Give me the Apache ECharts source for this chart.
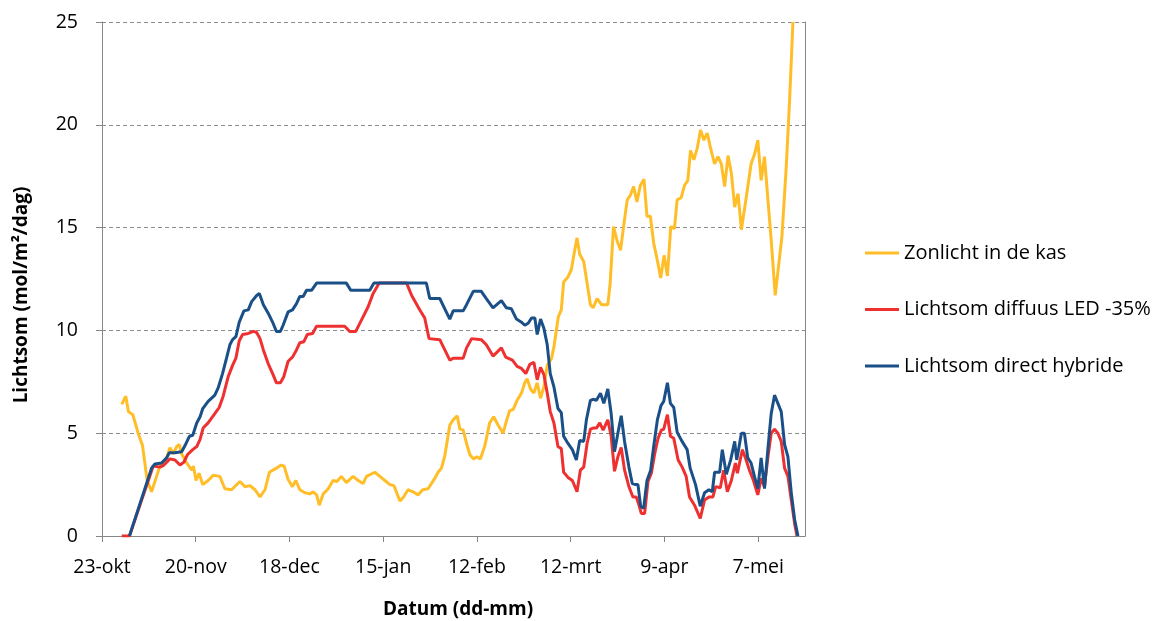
<!DOCTYPE html>
<html>
<head>
<meta charset="utf-8">
<script src="https://cdn.jsdelivr.net/npm/echarts@6/dist/echarts.min.js"></script>
<style>
html,body{margin:0;padding:0;background:#fff;}
#chart{width:1154px;height:621px;}
</style>
</head>
<body>
<div id="chart"></div>
<script>
// x = days after 23-okt
var tickLabels = ['23-okt','20-nov','18-dec','15-jan','12-feb','12-mrt','9-apr','7-mei'];
var seriesNames = ['Zonlicht in de kas','Lichtsom diffuus LED -35%','Lichtsom direct hybride'];

var zonlicht = [[5.9,6.4],[7.1,6.8],[7.9,6.05],[9.2,5.9],[10.8,5.0],[12.1,4.4],[13.5,2.7],[14.8,2.15],[16.3,2.9],[17.3,3.4],[18.8,3.55],[20.3,4.3],[21.3,4.0],[22.3,4.35],[23.1,4.45],[23.8,4.0],[25.3,3.55],[26.8,3.2],[27.3,3.4],[28.1,2.7],[29.0,3.05],[30.1,2.5],[31.7,2.7],[33.2,2.95],[35.2,2.9],[36.7,2.3],[38.7,2.25],[41.2,2.65],[42.7,2.4],[44.2,2.45],[45.7,2.25],[47.2,1.9],[48.7,2.25],[50.0,3.1],[52.1,3.3],[53.6,3.45],[54.4,3.4],[55.6,2.75],[56.9,2.4],[57.9,2.7],[59.1,2.25],[60.6,2.1],[62.1,2.05],[63.1,2.15],[64.1,2.0],[64.9,1.5],[66.1,2.05],[67.6,2.3],[69.0,2.7],[70.2,2.65],[71.5,2.9],[73.0,2.6],[75.0,2.9],[76.5,2.7],[78.0,2.55],[79.0,2.9],[81.5,3.1],[83.0,2.9],[84.5,2.7],[86.0,2.5],[87.2,2.45],[89.0,1.7],[90.1,1.9],[91.4,2.25],[92.9,2.15],[94.4,2.0],[95.8,2.25],[97.4,2.3],[99.4,2.8],[100.4,3.1],[101.4,3.3],[102.4,3.9],[103.9,5.4],[104.9,5.65],[106.1,5.85],[106.9,5.2],[107.9,5.15],[108.9,4.5],[109.9,3.95],[111.0,3.75],[112.0,3.85],[113.0,3.75],[114.3,4.35],[115.8,5.5],[117.0,5.8],[118.3,5.4],[119.8,5.0],[121.0,5.7],[121.8,6.1],[122.8,6.15],[124.0,6.6],[125.3,6.95],[126.3,7.45],[127.0,7.65],[128.0,7.15],[129.0,6.95],[130.0,7.45],[131.0,6.7],[132.0,7.25],[133.0,8.3],[134.3,8.65],[135.0,9.2],[136.3,10.65],[137.2,11.0],[137.9,12.35],[139.2,12.6],[140.2,12.95],[141.2,13.9],[141.9,14.5],[142.7,13.7],[143.9,13.35],[144.9,12.3],[145.9,11.25],[146.7,11.1],[147.9,11.55],[149.2,11.25],[151.1,11.25],[151.8,12.3],[152.8,15.05],[153.8,14.4],[154.9,13.9],[155.8,15.05],[156.9,16.35],[157.9,16.6],[158.8,17.0],[159.8,16.25],[160.8,17.05],[161.9,17.35],[162.8,15.55],[163.8,15.55],[164.8,14.25],[165.9,13.4],[166.9,12.55],[167.9,13.65],[168.9,12.65],[169.9,15.05],[171.0,14.95],[171.8,16.35],[173.0,16.45],[174.0,17.05],[175.0,17.3],[175.8,18.75],[176.8,18.3],[177.8,18.85],[178.8,19.75],[179.8,19.25],[180.8,19.6],[181.8,18.85],[183.0,18.1],[184.0,18.45],[185.0,18.1],[186.0,17.0],[187.0,18.5],[188.0,17.65],[189.0,16.0],[190.0,16.65],[191.0,14.9],[192.2,16.2],[193.9,18.1],[194.9,18.55],[195.9,19.25],[196.9,17.3],[197.9,18.45],[199.1,16.0],[199.9,14.4],[201.1,11.7],[203.1,14.55],[204.4,17.95],[205.4,21.2],[206.4,25.0]];

var diffuus = [[5.9,0],[8.2,0],[15.3,3.4],[17.3,3.35],[18.5,3.45],[20.3,3.75],[21.8,3.7],[23.3,3.45],[24.5,3.6],[25.5,3.95],[27.1,4.2],[28.3,4.35],[29.3,4.7],[30.2,5.25],[31.7,5.5],[33.7,5.95],[35.0,6.25],[36.2,6.8],[37.7,7.75],[39.0,8.3],[40.0,8.65],[41.0,9.5],[42.0,9.8],[43.7,9.85],[45.2,9.95],[46.2,9.9],[47.2,9.6],[48.2,9.05],[49.6,8.4],[51.1,7.85],[52.1,7.45],[53.3,7.45],[54.3,7.75],[55.6,8.5],[56.9,8.7],[58.1,9.05],[59.1,9.4],[60.3,9.45],[61.3,9.8],[62.9,9.85],[64.1,10.2],[72.5,10.2],[74.0,9.95],[75.8,9.95],[77.5,10.5],[79.5,11.15],[81.0,11.8],[82.8,12.3],[91.0,12.3],[92.5,11.7],[94.9,11.0],[96.4,10.6],[97.7,9.6],[100.9,9.55],[102.4,9.05],[103.9,8.55],[104.9,8.65],[107.9,8.65],[108.9,9.15],[110.4,9.6],[113.3,9.55],[114.8,9.3],[116.8,8.75],[119.3,9.15],[120.6,8.7],[122.6,8.55],[124.0,8.25],[125.3,8.15],[126.6,7.9],[127.8,8.35],[129.0,8.45],[130.0,7.6],[131.0,8.2],[132.0,7.85],[133.0,6.95],[133.9,6.05],[135.0,5.5],[136.2,4.35],[137.2,4.25],[137.9,3.1],[139.2,2.85],[140.5,2.7],[141.9,2.15],[142.9,3.2],[143.9,3.35],[144.9,4.5],[145.9,5.2],[146.7,5.25],[147.7,5.25],[148.7,5.5],[149.7,5.15],[151.1,5.65],[152.1,4.85],[153.1,3.15],[154.1,3.85],[155.1,4.3],[156.1,3.2],[157.4,2.4],[158.6,1.9],[159.6,1.9],[160.4,1.5],[161.1,1.1],[162.1,1.1],[163.1,2.65],[164.1,3.05],[165.1,4.0],[166.1,4.75],[167.1,5.15],[167.8,5.2],[168.9,5.9],[169.8,4.85],[170.8,4.75],[172.1,3.7],[173.3,3.35],[174.5,2.9],[175.5,1.9],[177.0,1.5],[178.7,0.85],[180.0,1.75],[181.3,1.9],[182.5,1.9],[183.3,2.4],[184.7,2.35],[185.7,3.2],[186.8,2.15],[188.0,2.7],[189.2,3.55],[189.8,3.05],[191.3,4.2],[192.2,3.8],[193.4,3.2],[194.6,2.7],[195.9,2.0],[196.9,2.8],[197.9,2.4],[198.9,3.8],[199.9,5.0],[200.9,5.2],[201.9,5.0],[202.9,4.6],[203.9,3.3],[204.9,2.9],[205.9,1.75],[206.9,0.6],[207.6,0]];

var hybride = [[8.2,0],[14.8,3.3],[15.8,3.5],[17.8,3.55],[19.3,3.8],[20.1,4.05],[21.8,4.05],[23.8,4.1],[24.8,4.4],[26.1,4.85],[27.1,4.9],[28.3,5.5],[29.3,5.8],[30.1,6.2],[31.7,6.55],[33.7,6.85],[34.7,7.2],[36.0,7.9],[37.2,8.65],[38.2,9.3],[39.0,9.55],[40.0,9.7],[41.0,10.4],[42.4,10.95],[43.7,11.0],[44.7,11.4],[46.2,11.7],[47.0,11.8],[48.2,11.25],[49.6,10.85],[51.1,10.35],[52.1,9.95],[53.3,9.95],[54.1,10.25],[55.6,10.9],[56.9,11.0],[58.1,11.3],[59.1,11.65],[60.1,11.65],[61.1,11.95],[62.6,11.95],[64.1,12.3],[73.0,12.3],[74.3,11.95],[80.0,11.95],[81.2,12.3],[96.9,12.3],[97.9,11.55],[100.9,11.55],[102.4,11.05],[103.9,10.55],[104.9,10.95],[107.9,10.95],[108.9,11.25],[110.9,11.9],[113.3,11.9],[114.8,11.55],[116.8,11.1],[119.3,11.45],[120.8,11.1],[122.3,11.05],[123.8,10.55],[125.3,10.4],[126.3,10.25],[127.3,10.35],[128.3,10.6],[129.3,10.6],[130.0,9.8],[131.0,10.55],[132.0,10.1],[133.0,9.3],[133.9,7.9],[135.0,7.25],[136.2,6.2],[137.2,6.0],[137.9,4.85],[139.2,4.5],[140.5,4.2],[141.7,3.7],[142.7,4.65],[143.9,4.6],[144.7,5.65],[145.9,6.6],[146.7,6.65],[147.7,6.6],[148.9,6.95],[149.9,6.45],[151.1,7.15],[152.1,5.95],[153.1,4.1],[154.1,5.0],[155.1,5.85],[156.1,4.6],[157.4,3.35],[158.4,2.55],[159.4,2.5],[160.1,2.5],[160.9,1.45],[161.8,1.35],[162.8,2.7],[163.9,3.2],[164.8,4.35],[165.9,5.65],[167.0,6.35],[167.8,6.55],[168.9,7.45],[169.8,6.45],[170.8,6.25],[171.8,5.05],[173.1,4.65],[174.8,4.2],[175.7,3.3],[177.3,2.5],[178.7,1.45],[180.0,2.1],[181.3,2.25],[182.3,2.15],[183.0,3.1],[184.5,3.1],[185.3,4.2],[186.5,3.0],[187.8,3.7],[189.0,4.6],[189.6,3.7],[191.0,5.0],[191.9,5.0],[192.9,3.8],[193.9,3.55],[194.9,2.9],[195.9,2.3],[196.9,3.8],[197.9,2.3],[198.9,4.2],[199.9,5.95],[200.9,6.85],[201.9,6.45],[202.9,6.05],[203.9,4.45],[204.9,3.85],[205.9,2.1],[206.9,0.8],[207.9,0]];

var colors = ['#FFBE28','#EE3030','#1A5087'];
var tickStep = 28;
var tickValues = tickLabels.map(function(_, i){ return i * tickStep; });

var FONT = 'Open Sans';
var chart = echarts.init(document.getElementById('chart'), null, {renderer:'canvas'});
chart.setOption({
  animation: false,
  color: colors,
  textStyle: {fontFamily: FONT},
  grid: {left: 102, right: 349, top: 22, bottom: 85, containLabel: false},
  legend: {
    orient: 'vertical', left: 865, top: 242, padding: 0,
    itemWidth: 34, itemHeight: 3, itemGap: 34.5, icon: 'rect',
    textStyle: {fontFamily: FONT, fontSize: 20, color: '#000', lineHeight: 22},
    data: seriesNames
  },
  xAxis: {
    type: 'value', min: 0, max: 210, interval: tickStep,
    axisLine: {show: true, lineStyle: {color: '#868686', width: 1}},
    axisTick: {show: true, length: 6, lineStyle: {color: '#868686'}, customValues: tickValues},
    axisLabel: {
      customValues: tickValues, margin: 21, fontSize: 19.5, color: '#000', fontFamily: FONT,
      formatter: function(v){ var i = Math.round(v / tickStep); return tickLabels[i] || ''; }
    },
    splitLine: {show: false}
  },
  yAxis: [{
    type: 'value', min: 0, max: 25, interval: 5,
    axisLine: {show: true, lineStyle: {color: '#868686', width: 1}},
    axisTick: {show: true, inside: false, length: 6, lineStyle: {color: '#868686'}},
    axisLabel: {margin: 24, fontSize: 19.5, color: '#000', fontFamily: FONT},
    splitLine: {show: true, lineStyle: {color: '#8c8c8c', type: [4, 3], width: 1}}
  }, {
    type: 'value', min: 0, max: 25, position: 'right',
    axisLine: {show: true, lineStyle: {color: '#868686', width: 1}},
    axisTick: {show: false}, axisLabel: {show: false}, splitLine: {show: false}
  }],
  graphic: [
    {type: 'text', x: 22, y: 295, rotation: Math.PI / 2,
     style: {text: 'Lichtsom (mol/m²/dag)', font: 'bold 19px "Open Sans"', fill: '#000', align: 'center', verticalAlign: 'middle'}},
    {type: 'text', x: 458, y: 610,
     style: {text: 'Datum (dd-mm)', font: 'bold 19px "Open Sans"', fill: '#000', align: 'center', verticalAlign: 'middle'}}
  ],
  series: [
    {name: seriesNames[0], type: 'line', data: zonlicht, showSymbol: false, clip: true,
     lineStyle: {width: 3, color: colors[0]}, itemStyle: {color: colors[0]}},
    {name: seriesNames[1], type: 'line', data: diffuus, showSymbol: false, clip: true,
     lineStyle: {width: 3, color: colors[1]}, itemStyle: {color: colors[1]}},
    {name: seriesNames[2], type: 'line', data: hybride, showSymbol: false, clip: true,
     lineStyle: {width: 3, color: colors[2]}, itemStyle: {color: colors[2]}}
  ]
});
</script>
</body>
</html>
